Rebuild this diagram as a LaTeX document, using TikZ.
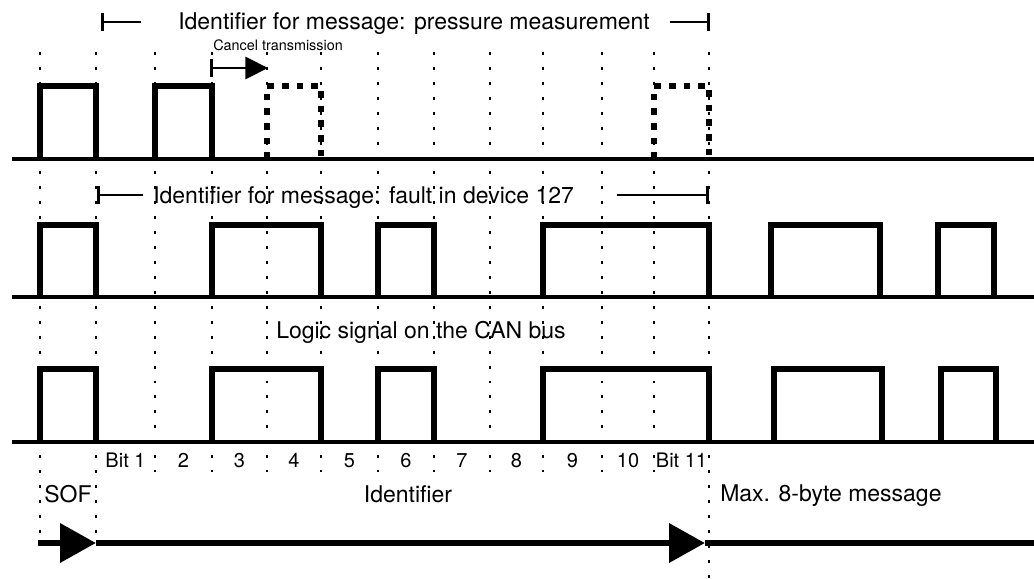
\documentclass[tikz,border=0pt]{standalone}
\usepackage{fontspec}
\setmainfont{TeX Gyre Heros}
\usepackage{tikz}
\usetikzlibrary{arrows.meta,positioning,calc}
\tikzstyle{bitline}=[draw, line width=2.2pt, dash pattern=on 2.2pt off 9pt]
\tikzstyle{bus}=[draw, line width=2.6pt]
\tikzstyle{pulse}=[draw, line width=4.9pt, line join=miter]
\tikzstyle{dropped}=[draw, line width=5pt, dash pattern=on 5pt off 6pt]
\tikzstyle{flow}=[draw, line width=5.2pt, -{Triangle[length=27pt,width=28.5pt]}]
\tikzstyle{span}=[draw, line width=1.9pt]

\begin{document}
\begin{tikzpicture}[
                x=0.75pt, y=-0.75pt,
                every node/.style={font=\fontsize{17.25}{20}\selectfont, inner sep=0pt},
                bitlabel/.style={font=\fontsize{15}{18}\selectfont, anchor=base},
                spanbar/.tip={Bar[width=14pt, line width=2.4pt]}
            ]
            \useasboundingbox (0,0) rectangle (1034,578);

            % Bit boundaries
            \foreach \x [count=\i from 0] in {40,96,155,212,267,321,378,434,490,543,602,654,709}
                \coordinate (t\i) at (\x,52);
            \foreach \i in {0,1}
                \draw[bitline] (t\i) -- ++(0,485);
            \foreach \i in {2,...,11}
                \draw[bitline] (t\i) -- ++(0,420);
            \draw[bitline] (t12) -- ++(0,526);

            % Bus lines
            \foreach \y in {159,297,442}
                \draw[bus] (12,\y) -- (1034,\y);

            % Pressure message (stops after bit 2)
            \foreach \a/\b in {40/96,155/212}
                \draw[pulse] (\a,159) -- (\a,86) -- (\b,86) -- (\b,159);
            \foreach \a/\b in {267/321,654/709}
                \draw[dropped] (\a,159) -- (\a,86) -- (\b,86) -- (\b,159);

            % Fault message
            \foreach \a/\b in {40/96,212/321,378/434,543/709,771/880,938/994}
                \draw[pulse] (\a,297) -- (\a,225) -- (\b,225) -- (\b,297);

            % Logic signal on the bus
            \foreach \a/\b in {40/96,212/321,378/434,543/709,774/882,941/996}
                \draw[pulse] (\a,442) -- (\a,369) -- (\b,369) -- (\b,442);

            % Nodes
            \node[anchor=base west] (ptop) at (178,29) {Identifier for message: pressure measurement};
            \coordinate (ptopL) at (101,22);
            \coordinate (ptopR) at (710,22);
            \node[anchor=base west, font=\fontsize{10.8}{13}\selectfont] (cancel) at (213,50) {Cancel transmission};
            \coordinate (cancelL) at (210,68);
            \coordinate (cancelR) at (268,68);
            \node[anchor=base west] (fault) at (153,203) {Identifier for message: fault in device 127};
            \coordinate (faultL) at (97,195);
            \coordinate (faultR) at (709,195);
            \node[anchor=base west] (logic) at (276,338) {Logic signal on the CAN bus};

            \foreach \lab [count=\k from 1] in {Bit 1,2,3,4,5,6,7,8,9,10,Bit 11} {
                \pgfmathtruncatemacro\n{\k+1}
                \node[bitlabel] (bit\k) at ($(t\k)!0.5!(t\n)+(0,415)$) {\lab};
            }
            \node[anchor=base] (sof) at (68,502) {SOF};
            \node[anchor=base] (ident) at (408,502) {Identifier};
            \node[anchor=base west] (data) at (720,501) {Max. 8-byte message};

            \coordinate (a0) at (38,543);
            \coordinate (a1) at (96,543);
            \coordinate (a2) at (705,543);
            \coordinate (a3) at (1034,543);

            % Arrows
            \draw[span, {spanbar}-, shorten >=27.5pt] (ptopL) -- (ptopL -| ptop.west);
            \draw[span, -{spanbar}, shorten <=15pt] (ptop.east |- ptopR) -- (ptopR);
            \draw[line width=2.2pt, {spanbar}-{Triangle[length=17pt,width=16.5pt]}] (cancelL) -- (cancelR);
            \draw[span, {spanbar}-, shorten >=7.5pt] (faultL) -- (faultL -| fault.west);
            \draw[span, -{spanbar}, shorten <=32pt] (fault.east |- faultR) -- (faultR);
            \draw[flow] (a0) -- (a1);
            \draw[flow] (a1) -- (a2);
            \draw[line width=5.2pt] (a2) -- (a3);

\end{tikzpicture}
\end{document}
